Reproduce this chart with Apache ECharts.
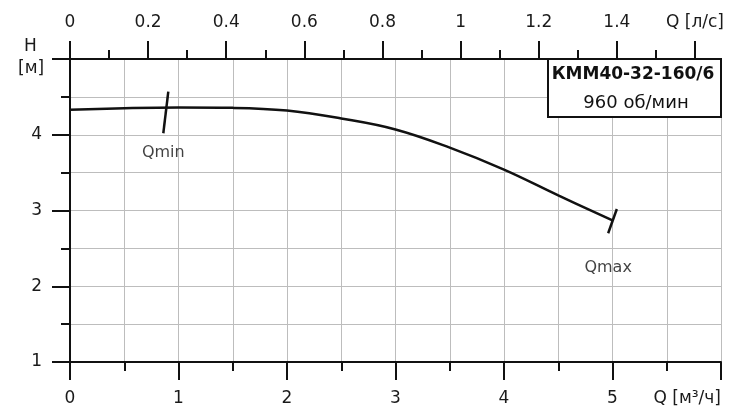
<!DOCTYPE html>
<html>
<head>
<meta charset="utf-8">
<script src="https://cdn.jsdelivr.net/npm/echarts@6/dist/echarts.min.js"></script>
<style>
  html, body { margin: 0; padding: 0; background: #fff; }
  #main { width: 735px; height: 414px; }
</style>
</head>
<body>
<div id="main"></div>
<script>
// расход, м3/ч и напор, м
var flowM3h = [0, 0.5, 1, 1.5, 2, 2.5, 3, 3.5, 4, 4.5, 5];
var headM = [4.33, 4.35, 4.36, 4.355, 4.32, 4.215, 4.07, 3.83, 3.54, 3.2, 2.87];
// отметки Qmin / Qmax (короткие штрихи поперёк кривой)
var qminMark = [[0.86, 4.02], [0.906, 4.57]];
var qmaxMark = [[4.96, 2.70], [5.04, 3.02]];
// верхняя шкала, л/с
var topMajor = [0, 0.2, 0.4, 0.6, 0.8, 1, 1.2, 1.4, 1.6];
var topMinor = [0.1, 0.3, 0.5, 0.7, 0.9, 1.1, 1.3, 1.5];
var pumpName = 'КММ40-32-160/6';
var pumpSpeed = '960 об/мин';

var font = 'DejaVu Sans';
var black = '#111';
var gridGray = '#bdbdbd';

var axisLine = { show: true, lineStyle: { color: black, width: 2 } };
var labelStyle = { color: '#1a1a1a', fontSize: 17, fontFamily: font };

var option = {
  animation: false,
  grid: { left: 70, right: 14, top: 59, bottom: 52 },
  xAxis: [
    {
      type: 'value', position: 'bottom', min: 0, max: 6, interval: 1,
      axisLine: axisLine,
      axisTick: { show: true, length: 18, lineStyle: { color: black, width: 2 } },
      minorTick: { show: true, splitNumber: 2, length: 9, lineStyle: { color: black, width: 2 } },
      splitLine: { show: true, lineStyle: { color: gridGray, width: 1 } },
      minorSplitLine: { show: true, lineStyle: { color: gridGray, width: 1 } },
      axisLabel: Object.assign({}, labelStyle, {
        margin: 28,
        alignMaxLabel: 'right',
        formatter: function (v) { return v === 6 ? 'Q [м³/ч]' : String(v); }
      })
    },
    {
      type: 'value', position: 'top', min: 0, max: 6 / 3.6,
      axisLine: axisLine,
      axisTick: { show: true, length: 18, customValues: topMajor, lineStyle: { color: black, width: 2 } },
      splitLine: { show: false },
      axisLabel: Object.assign({}, labelStyle, {
        margin: 28,
        customValues: topMajor,
        formatter: function (v) { return Math.abs(v - 1.6) < 1e-6 ? 'Q [л/с]' : String(v); }
      })
    },
    {
      type: 'value', position: 'top', min: 0, max: 6 / 3.6,
      axisLine: { show: false },
      axisTick: { show: true, length: 9, customValues: topMinor, lineStyle: { color: black, width: 2 } },
      axisLabel: { show: false },
      splitLine: { show: false }
    }
  ],
  yAxis: {
    type: 'value', min: 1, max: 5, interval: 1,
    axisLine: axisLine,
    axisTick: { show: true, length: 18, lineStyle: { color: black, width: 2 } },
    minorTick: { show: true, splitNumber: 2, length: 9, lineStyle: { color: black, width: 2 } },
    splitLine: { show: true, lineStyle: { color: gridGray, width: 1 } },
    minorSplitLine: { show: true, lineStyle: { color: gridGray, width: 1 } },
    axisLabel: Object.assign({}, labelStyle, {
      margin: 28,
      formatter: function (v) { return v === 5 ? '' : String(v); }
    })
  },
  graphic: [
    { type: 'text', left: 24, top: 38, style: { text: 'H', fontSize: 17, fontFamily: font, fill: '#1a1a1a' } },
    { type: 'text', left: 18, top: 60, style: { text: '[м]', fontSize: 17, fontFamily: font, fill: '#1a1a1a' } },
    {
      type: 'rect', z: 10,
      shape: { x: 548, y: 59, width: 173, height: 58 },
      style: { fill: '#fff', stroke: black, lineWidth: 2 }
    },
    {
      type: 'text', z: 11, x: 633, y: 75,
      style: { text: pumpName, fontSize: 17, fontWeight: 'bold', fontFamily: font, fill: '#111', align: 'center', verticalAlign: 'middle' }
    },
    {
      type: 'text', z: 11, x: 636, y: 103,
      style: { text: pumpSpeed, fontSize: 18, fontFamily: font, fill: '#111', align: 'center', verticalAlign: 'middle' }
    }
  ],
  series: [
    {
      type: 'line', xAxisIndex: 0,
      data: flowM3h.map(function (q, i) { return [q, headM[i]]; }),
      smooth: 0.4, showSymbol: false,
      lineStyle: { color: black, width: 2.5 }
    },
    {
      type: 'line', xAxisIndex: 0, showSymbol: false, symbol: 'none',
      lineStyle: { color: black, width: 2.5 },
      data: qminMark
    },
    {
      type: 'line', xAxisIndex: 0, showSymbol: false, symbol: 'none',
      lineStyle: { color: black, width: 2.5 },
      data: qmaxMark
    },
    {
      type: 'scatter', xAxisIndex: 0, symbolSize: 0, silent: true,
      label: { show: true, position: 'bottom', fontSize: 16, fontFamily: font, color: '#111',
        formatter: function (p) { return p.data.name; } },
      data: [
        { name: 'Qmin', value: qminMark[0], label: { distance: 12 } },
        { name: 'Qmax', value: qmaxMark[0], label: { distance: 27 } }
      ]
    }
  ]
};

var chartDom = document.getElementById('main');
var myChart = echarts.init(chartDom);
myChart.setOption(option);
</script>
</body>
</html>
